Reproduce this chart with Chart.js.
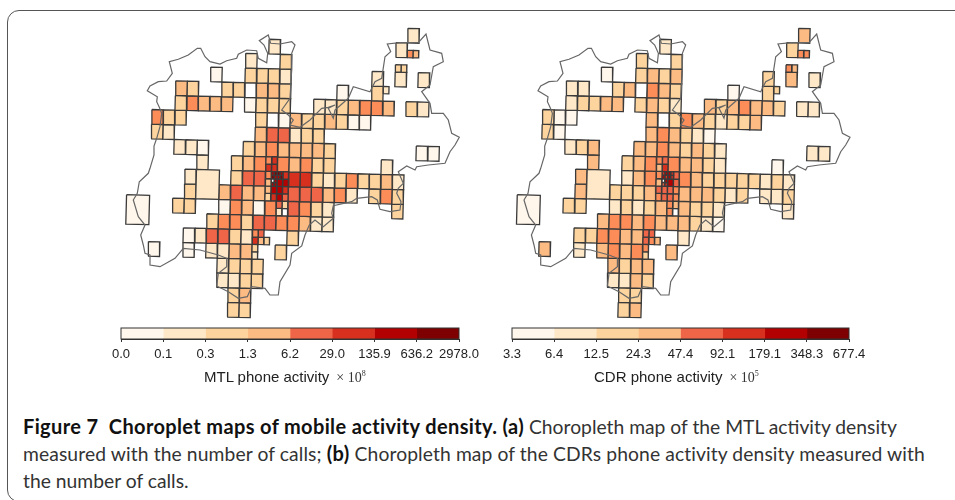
<!DOCTYPE html>
<html>
<head>
<meta charset="UTF-8">
<title>Figure 7</title>
<script src="https://cdn.jsdelivr.net/npm/chart.js"></script>
<style>
  html, body { margin: 0; padding: 0; background: #fff; }
  body { width: 955px; height: 500px; overflow: hidden; position: relative; font-family: "Liberation Sans", sans-serif; }
  #frame { position: absolute; left: 7px; top: 10px; width: 1000px; height: 492px; box-sizing: border-box; border: 1px solid #555; border-radius: 12px; }
  canvas { position: absolute; }
  #mapA, #mapB { filter: blur(0.35px); }
  .barTitle { position: absolute; top: 368px; font-size: 15px; line-height: 18px; color: #222; white-space: nowrap; }
  .barTitle i { font-family: "Liberation Serif", serif; font-style: normal; font-size: 14px; color: #333; margin-left: 7px; }
  .barTitle sup { font-size: 8px; line-height: 0; }
  #caption { position: absolute; left: 23px; top: 413px; font-family: Lato, sans-serif; font-size: 19.3px; line-height: 27px; color: #333; white-space: nowrap; }
  #caption b { color: #111; font-size: 20px; letter-spacing: 0.36px; }
  #line2 { letter-spacing: 0.1px; }
</style>
</head>
<body>
<div id="frame"></div>
<canvas id="mapA" width="380" height="305" style="left:110px;top:20px"></canvas>
<canvas id="mapB" width="380" height="305" style="left:500px;top:20px"></canvas>
<canvas id="barA" width="400" height="42" style="left:90px;top:322px"></canvas>
<canvas id="barB" width="400" height="42" style="left:480px;top:322px"></canvas>
<div class="barTitle" style="left:204px">MTL phone activity<i>× 10<sup>8</sup></i></div>
<div class="barTitle" style="left:594px">CDR phone activity<i>× 10<sup>5</sup></i></div>
<div id="caption">
  <b>Figure 7&nbsp; Choroplet maps of mobile activity density. (a)</b> Choropleth map of the MTL activity density<br>
  <span id="line2">measured with the number of calls; <b>(b)</b> Choropleth map of the CDRs phone activity density measured with</span><br>
  the number of calls.
</div>

<script>
  // tick labels of the two colour bars
  const mtlTicks = ['0.0','0.1','0.3','1.3','6.2','29.0','135.9','636.2','2978.0'];
  const cdrTicks = ['3.3','6.4','12.5','24.3','47.4','92.1','179.1','348.3','677.4'];

  const orRd = ['#fff7ec','#fee8c8','#fdd49e','#fdbb84','#fc8d59','#ef6548','#d7301f','#b30000','#7f0000'];
  const barBins = [0,1,2,3,5,6,7,8];

  // grid cells, one list per row starting at row -1. bin -1 = no data (white)
  const rowCols = [
    [22],
    [10,21],
    [8,11],
    [5,8,9,10,11,19,21,23],
    [2,3,6,7,8,9,10,11,16,19],
    [2,3,4,5,6,8,9,10,11,14,15,16,17,18,19,20,22,23],
    [0,1,2,9,10,11,12,13,14,15,16,17,18],
    [0,1,9,10,11,12,13,14],
    [2,3,4,8,9,10,11,12,13,14,15,23,24],
    [4,7,8,9,11,12,13,14,15,20],
    [3,7,8,9,12,13,14,15,16,17,18,19,20,21],
    [3,6,7,8,9,12,13,14,15,16,17,19,20,21],
    [2,3,6,7,8,9,10,12,13,14,15,21],
    [5,6,7,8,9,10,11,12,13,14,15],
    [3,4,5,6,7,8,12],
    [0,3,5,6,7,8,11],
    [6,7,8,9],
    [6,7,8,9],
    [7,8],
    [7,8]
  ];
  const mtlRows = [
    [1],
    [1,1],
    [1,2],
    [0,2,2,2,1,1,1,1],
    [3,2,2,2,-1,3,3,2,0,2],
    [2,4,3,3,3,0,2,2,2,1,1,2,3,4,4,3,2,1],
    [4,2,2,2,-1,0,3,2,2,3,2,0,0],
    [2,1,3,5,5,1,2,2],
    [1,1,0,2,3,4,3,3,3,3,2,0,0],
    [1,2,3,4,4,3,4,2,2,1],
    [1,2,5,5,6,6,2,1,2,4,2,2,3,1],
    [2,3,5,3,3,5,5,5,3,4,1,2,4,2],
    [2,2,0,4,3,0,4,5,4,2,1,2],
    [2,4,4,2,5,5,4,4,3,1,1],
    [0,1,5,5,2,1,2],
    [0,0,1,1,3,3,2],
    [1,2,2,2],
    [1,1,2,2],
    [2,3],
    [2,2]
  ];
  const cdrRows = [
    [3],
    [1,2],
    [2,2],
    [0,2,3,2,3,2,3,1],
    [1,1,2,3,-1,4,3,2,0,2],
    [1,2,2,3,3,2,3,2,1,3,2,3,4,3,3,2,1,1],
    [2,0,0,3,-1,2,4,3,2,1,2,2,3],
    [2,0,3,4,3,2,1,0],
    [1,2,3,3,3,4,3,2,3,2,1,1,1],
    [3,2,3,4,4,3,3,2,1,0],
    [3,1,3,4,4,3,2,2,2,2,2,1,2,1],
    [3,2,2,2,3,3,3,3,2,1,2,1,1,2],
    [2,2,1,2,1,2,3,3,2,2,1,1],
    [3,4,4,3,4,3,3,3,2,1,0],
    [2,2,4,4,3,3,1],
    [3,1,3,4,3,4,3],
    [3,2,3,3],
    [1,1,3,2],
    [2,2],
    [2,3]
  ];

  // cells larger or smaller than one grid square
  const partCol = [-2,4,22,22.5,21,21.5,20,9,9.5,9,9.5,10,9,9,10,10.5,10,10.5,10,10,10.5,10.75,10.5,10.75,10.5,10.75,10.5,10.75,11,11.25,11,11.25,11.5,11,11.5,10,10,10.5,10.5,11,11,11.5,11.5,11,11.5,11,11.5];
  const partRow = [10.85,9,0.5,0.5,1.5,1.5,3,13,13,13.5,13.5,13.5,14,14.5,8,8,8.5,8.5,9,9.5,9,9,9.25,9.25,9.5,9.5,9.75,9.75,9,9,9.25,9.25,9,9.5,9.5,10,10.5,10,10.5,10,10.5,10,10.5,11,11,11.5,11.5];
  const partW = [2,2,.5,.5,.5,.5,.5,.5,.5,.5,.5,.5,.5,.5,.5,.5,.5,.5,.5,.5,.25,.25,.25,.25,.25,.25,.25,.25,.25,.25,.25,.25,.5,.5,.5,.5,.5,.5,.5,.5,.5,.5,.5,.5,.5,.5,.5];
  const partH = [2,2,.5,.5,.5,.5,.5,.5,.5,.5,.5,.5,.5,.5,.5,.5,.5,.5,.5,.5,.25,.25,.25,.25,.25,.25,.25,.25,.25,.25,.25,.25,.5,.5,.5,.5,.5,.5,.5,.5,.5,.5,.5,.5,.5,.5,.5];
  const partMtl = [0,1,4,3,2,2,1,4,5,6,3,2,2,1,4,6,6,6,4,3,7,8,8,7,-1,7,7,7,8,7,7,8,6,7,7,3,2,7,6,7,7,6,5,5,2,1,-1];
  const partCdr = [0,1,4,4,4,3,2,5,5,5,4,3,4,2,4,5,3,6,4,3,6,7,7,6,-1,7,5,6,7,6,7,6,5,7,5,5,4,5,5,5,5,4,4,4,3,4,-1];

  // outline of the region (same units as the map axes)
  const outlineX = [150,154,154,156.7,160,161.7,159.3,156.7,157.3,147.3,150,158.3,166.7,172.3,169.3,178.3,188.3,197.3,200.7,205,210,220,226.7,236.7,238.3,246.7,256.7,258.3,266.7,267.7,264,259.3,268.3,270.7,280,291.7,295,291.7,291.7,290,281.7,288.3,293.3,290,300,310,321.7,328.3,335,328.3,333.3,335,348.3,353.3,370,375,381.7,385,390.7,387.3,400,418.3,426,430,441.7,443.3,433.3,430,421.7,430,431.7,443.3,448.3,451.7,459.3,455,450,445,428.3,416.7,415,406.7,398.3,403.3,398.3,396.7,401,400,390,380,377.3,371.7,356.7,351.7,333.3,331.7,333.3,323.3,315,309.3,305,301.7,291.7,290,280,278.3,270,265,251.7,247.3,238.3,228.3,216.7,218.3,226.7,226.7,218.3,200,183.3,175,160,150,150,145,143.3,140.7,145,138.3,133.3,137.3,139.3,148.3,150];
  const outlineY = [168.3,155,146,138.3,126.7,113.3,107.3,101.7,96.7,90.7,86,81.7,81,73.3,61.7,59.3,55,48.3,48.3,56.7,61.7,64,60.7,58.3,54.3,50,50.7,58.3,62.7,53.3,45,40.7,35,43.3,44,41.7,45,53.3,70,98.3,110,115,120,125,127.3,120,108.3,107.3,105,108.3,118.3,110,98.3,86.7,91.7,81.7,78.3,56.7,51.7,44,42.7,42.7,34,50,53.3,61.7,66.7,85,91.7,103.3,113.3,113.3,120,133.3,137.3,145,151.7,163.3,165,166.7,170,166,171.7,183.3,188.3,193.3,201.7,210,211.7,209.3,200,196.7,198.3,201.7,205.7,213.3,218.3,226.7,220,225,235,246,253.3,265,281.7,295,295,288.3,286.7,296.7,298.3,291.7,286,273.3,266.7,258.3,255,250,248.3,258.3,266.7,265,255,253.3,245,235,225,216.7,200,193.3,181.7,173.3,168.3];

  // the cell grid is slightly rotated against the page
  function gridPoint(c, r) {
    return { x: 153.85 + 11.53 * c - 0.39 * r, y: 36.15 + 14.67 * r + 0.31 * c };
  }

  function cellDataset(c, r, w, h, bin) {
    return {
      data: [gridPoint(c, r), gridPoint(c + w, r), gridPoint(c + w, r + h), gridPoint(c, r + h), gridPoint(c, r)],
      backgroundColor: bin < 0 ? '#ffffff' : orRd[bin],
      borderColor: '#3a3a3a',
      borderWidth: 1.3,
      fill: 'shape',
      showLine: true,
      pointRadius: 0
    };
  }

  function drawMap(id, binRows, partBins, xMin) {
    const datasets = [{
      data: outlineX.map((x, i) => ({ x: x, y: outlineY[i] })),
      borderColor: '#666',
      borderWidth: 1.2,
      showLine: true,
      pointRadius: 0,
      fill: false
    }];
    partCol.forEach((c, i) => datasets.push(cellDataset(c, partRow[i], partW[i], partH[i], partBins[i])));
    rowCols.forEach((cols, i) => {
      cols.forEach((c, j) => datasets.push(cellDataset(c, i - 1, 1, 1, binRows[i][j])));
    });
    new Chart(document.getElementById(id), {
      type: 'scatter',
      data: { datasets },
      options: {
        responsive: false,
        animation: false,
        events: [],
        layout: { padding: 0 },
        plugins: { legend: { display: false }, tooltip: { enabled: false } },
        scales: {
          x: { type: 'linear', display: false, min: xMin, max: xMin + 380 },
          y: { type: 'linear', display: false, reverse: true, min: 20, max: 325 }
        }
      }
    });
  }

  const frameBox = {
    id: 'frameBox',
    afterDraw(chart) {
      const { ctx, chartArea: a } = chart;
      ctx.save();
      ctx.strokeStyle = '#333';
      ctx.lineWidth = 1;
      ctx.strokeRect(a.left, a.top, a.right - a.left, a.bottom - a.top);
      ctx.restore();
    }
  };

  function drawBar(id, ticks, padLeft, padRight) {
    new Chart(document.getElementById(id), {
      type: 'bar',
      data: {
        labels: [''],
        datasets: barBins.map(b => ({ data: [1], backgroundColor: orRd[b], borderWidth: 0, barPercentage: 1, categoryPercentage: 1 }))
      },
      options: {
        indexAxis: 'y',
        responsive: false,
        animation: false,
        events: [],
        layout: { padding: { left: padLeft, right: padRight, top: 6, bottom: 0 } },
        plugins: { legend: { display: false }, tooltip: { enabled: false } },
        scales: {
          x: {
            stacked: true, min: 0, max: 8,
            afterFit: s => { s.height = 25; },
            border: { color: '#333' },
            grid: { drawOnChartArea: false, tickLength: 3, tickColor: '#333' },
            ticks: {
              stepSize: 1, autoSkip: false, maxRotation: 0, padding: 5,
              color: '#222',
              font: { family: '"Liberation Sans"', size: 13 },
              callback: v => ticks[v]
            }
          },
          y: { stacked: true, display: false }
        }
      },
      plugins: [frameBox]
    });
  }

  drawMap('mapA', mtlRows, partMtl, 110);
  drawMap('mapB', cdrRows, partCdr, 109.3);
  drawBar('barA', mtlTicks, 31, 31);
  drawBar('barB', cdrTicks, 32, 31);
</script>
</body>
</html>
